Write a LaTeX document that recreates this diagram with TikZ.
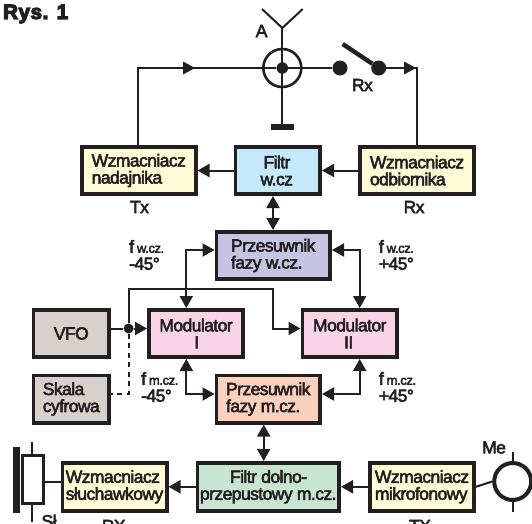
\documentclass[tikz,border=0pt]{standalone}
\usepackage{fontspec}
\setmainfont[FakeBold=3,LetterSpace=-3.2]{Liberation Sans}
\newfontfamily\titlefont[FakeBold=6,LetterSpace=3]{Liberation Sans Bold}
\usetikzlibrary{arrows.meta,calc}
\definecolor{cYel}{HTML}{FFFBD6}
\definecolor{cBlu}{HTML}{C5E8FB}
\definecolor{cPur}{HTML}{C5C4E2}
\definecolor{cGry}{HTML}{D6D1CD}
\definecolor{cPnk}{HTML}{F8D4E6}
\definecolor{cSal}{HTML}{FBD0BC}
\definecolor{cGrn}{HTML}{C8E5D3}
\definecolor{cInk}{HTML}{231F20}
\tikzset{
  x=1pt,y=-1pt,
  box/.style={draw=cInk,line width=3.6pt,inner sep=0pt,align=left,text=cInk,font=\fontsize{17.5}{17}\selectfont},
  wire/.style={draw=cInk,line width=2pt},
  one/.style={wire,-{Triangle[length=12pt,width=13pt]}},
  two/.style={wire,{Triangle[length=12pt,width=13pt]}-{Triangle[length=12pt,width=13pt]}},
  lab/.style={text=cInk,inner sep=0pt,align=left,font=\fontsize{17.5}{17}\selectfont},
  fq/.style={text=cInk,inner sep=0pt,align=left,anchor=west,font=\fontsize{17.5}{17}\selectfont},
  dotn/.style={circle,fill=cInk,inner sep=0pt,minimum size=#1},
}
\newcommand{\bx}[7]{%
  \pgfmathsetmacro{\bxw}{#4-#2-3.6}\pgfmathsetmacro{\bxh}{#5-#3-3.6}%
  \node[box,fill=#6,minimum width=\bxw pt,minimum height=\bxh pt] (#1) at ({(#2+#4)/2},{(#3+#5)/2}) {#7};}
\newcommand{\sm}[1]{{\fontsize{13}{13}\selectfont #1}}
\begin{document}
\begin{tikzpicture}
\useasboundingbox (0,0) rectangle (532,523);
\clip (0,0) rectangle (532,523);
\fill[white] (0,0) rectangle (532,523);
\node[anchor=west,inner sep=0pt,text=cInk,font=\titlefont\fontsize{20.5}{20.5}\selectfont] (title) at (3,14) {Rys. 1};
% boxes
\bx{wn}{80}{145}{197.5}{196}{cYel}{Wzmacniacz\\nadajnika}
\bx{fw}{233.5}{145}{322}{196}{cBlu}{\hspace*{-2pt}\,Filtr\\\hspace*{-2pt}w.cz}
\bx{wo}{358}{145}{476}{196}{cYel}{Wzmacniacz\\odbiornika}
\bx{pw}{214.5}{230}{332}{281}{cPur}{Przesuwnik\\fazy w.cz.}
\bx{vfo}{31.5}{308}{111}{359}{cGry}{VFO}
\bx{m1}{147}{308}{245}{359}{cPnk}{Modulator\\\hspace*{35pt}I}
\bx{m2}{300.5}{308}{399}{359}{cPnk}{Modulator\\\hspace*{31pt}II}
\bx{sk}{31.5}{373.5}{111}{424.5}{cGry}{Skala\\cyfrowa}
\bx{pm}{214.5}{373.5}{322}{424.5}{cSal}{Przesuwnik\\fazy m.cz.}
\bx{ws}{60.5}{461}{168.5}{512.5}{cYel}{Wzmacniacz\\słuchawkowy}
\bx{fd}{195.5}{461}{341}{512.5}{cGrn}{\hspace*{30pt}Filtr dolno-\\przepustowy m.cz.}
\bx{wm}{368}{461}{476}{512.5}{cYel}{Wzmacniacz\\mikrofonowy}
% antenna
\coordinate (ac) at (282.3,68);
\coordinate (atop) at (282.3,28);
\coordinate (al) at (262,9);
\coordinate (ar) at (302.7,9);
\coordinate (gnd) at (282.3,126.5);
\draw[wire] (al) -- (atop) -- (ar);
\draw[wire] (atop) -- (gnd);
\draw[draw=cInk,line width=6pt] ($(gnd)+(-11.5,0)$) -- ($(gnd)+(11.5,0)$);
\node[circle,draw=cInk,line width=2.6pt,minimum size=38pt,inner sep=0pt] (ring) at (ac) {};
\node[dotn=11.5pt] (acd) at (ac) {};
\node[dotn=15pt] (s1) at (340,68) {};
\node[dotn=15pt] (s2) at (378.7,68) {};
\coordinate (arm) at (342.7,44);
\draw[draw=cInk,line width=4.4pt] (arm) -- (s2);
\coordinate (rc) at (416.7,68);
\coordinate (lc) at (138.4,68);
\draw[wire] (acd) -- (s1);
\draw[wire] (s2) -- (rc) -- (rc |- wo.north);
\draw[wire] (lc |- wn.north) -- (lc) -- (acd);
\fill[cInk] (195,68) -- (183,61.5) -- (183,74.5) -- cycle;
\fill[cInk] (416,68) -- (404,61.5) -- (404,74.5) -- cycle;
% horizontal signal arrows
\draw[one] (fw.west) -- (wn.east);
\draw[one] (wo.west) -- (fw.east);
\draw[one] (fd.west) -- (ws.east);
\draw[one] (wm.west) -- (fd.east);
% double arrows
\coordinate (a1) at (273,196);
\draw[two] (fw.south -| a1) -- (pw.north -| a1);
\coordinate (a2) at (186.3,250);
\draw[two] (pw.west |- a2) -- (a2) -- (a2 |- m1.north);
\coordinate (a3) at (359.7,250);
\draw[two] (pw.east |- a3) -- (a3) -- (a3 |- m2.north);
\coordinate (a4) at (186.3,394);
\draw[two] (m1.south -| a4) -- (a4) -- (a4 -| pm.west);
\coordinate (a5) at (359.7,394);
\draw[two] (m2.south -| a5) -- (a5) -- (a5 -| pm.east);
\coordinate (a6) at (263.7,424);
\draw[two] (pm.south -| a6) -- (fd.north -| a6);
% VFO
\node[dotn=10pt] (vd) at (128.6,328.5) {};
\draw[wire] (vfo.east |- vd) -- (vd);
\draw[one] (vd) -- (vd -| m1.west);
\coordinate (v1) at (128.6,289);
\coordinate (v2) at (273,289);
\coordinate (v3) at (273,328.5);
\draw[one] (vd) -- (v1) -- (v2) -- (v3) -- (v3 -| m2.west);
\coordinate (d1) at (128.6,394);
\draw[draw=cInk,line width=2pt,dash pattern=on 5pt off 4.5pt] (vd) -- (d1) -- (d1 -| sk.east);
% earphone
\node[draw=cInk,line width=3pt,inner sep=0pt,minimum width=21pt,minimum height=48pt] (ear) at (32.5,479) {};
\fill[cInk] (13,446.5) rectangle (20.4,512.7);
\coordinate (e1) at (32,441.5);
\coordinate (e2) at (32,522);
\draw[wire] (e1) -- (ear.north -| e1);
\draw[wire] (ear.south -| e2) -- (e2);
\draw[wire] (ws.west |- 0,481.5) -- (44,481.5);
% microphone
\node[circle,draw=cInk,line width=4pt,minimum size=37pt,inner sep=0pt] (mic) at (512.7,481.5) {};
\coordinate (m1t) at (512.7,451.6);
\coordinate (m1b) at (512.7,512);
\draw[wire] (m1t) -- (mic.north);
\draw[wire] (mic.south) -- (m1b);
\draw[wire] (wm.east) -- (mic.west);
% labels
\node[lab] (lA) at (261.6,31) {A};
\node[lab] (lRx) at (362.4,85) {Rx};
\node[lab] (lTx) at (139.5,207) {Tx};
\node[lab] (lRx2) at (414,207) {Rx};
\node[fq] (f1) at (129,255) {f\,\sm{w.cz.}\\-45°};
\node[fq] (f2) at (378.7,255) {f\,\sm{w.cz.}\\+45°};
\node[fq] (f3) at (141,387) {f\,\sm{m.cz.}\\-45°};
\node[fq] (f4) at (378.7,387) {f\,\sm{m.cz.}\\+45°};
\node[lab] (lSl) at (49,521) {Sł};
\node[lab] (lRX) at (113.7,526) {RX};
\node[lab] (lTX) at (420,526) {TX};
\node[lab] (lMe) at (494,447.5) {Me};
\end{tikzpicture}
\end{document}
